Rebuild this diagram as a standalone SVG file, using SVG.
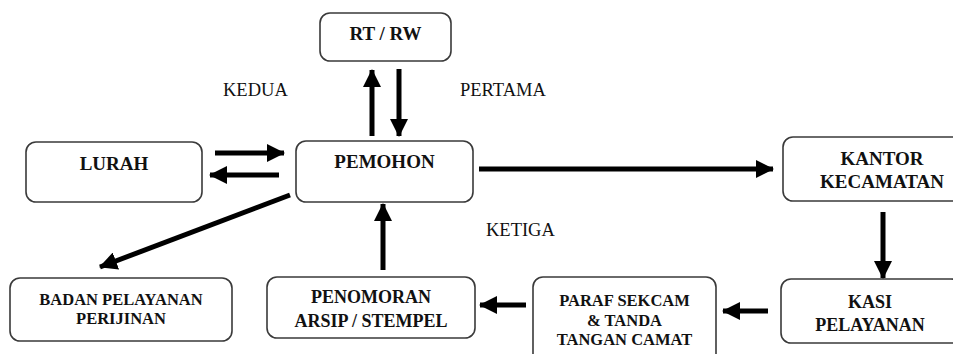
<svg xmlns="http://www.w3.org/2000/svg" width="953" height="354" viewBox="0 0 953 354">
<style>
.box{fill:#fff;stroke:#3a3a3a;stroke-width:1.6}
.t{font-family:'Liberation Serif','DejaVu Serif',serif;font-weight:bold;text-anchor:middle;fill:#111}
.l{font-family:'Liberation Serif','DejaVu Serif',serif;font-size:18.5px;fill:#111}
.c{stroke:#000;stroke-width:5;fill:none;marker-end:url(#ah)}
</style>
<defs>
<marker id="ah" markerUnits="userSpaceOnUse" markerWidth="18" markerHeight="18" viewBox="0 0 18 18" refX="17" refY="9" orient="auto">
<path d="M0,0 L18,9 L0,18 z" fill="#000"/>
</marker>
</defs>
<rect width="953" height="354" fill="#fff"/>
<g id="rtrw"><rect class="box" x="320" y="13" width="131" height="48" rx="10"/><text class="t" x="385.5" y="40" font-size="19">RT / RW</text></g>
<g id="pemohon"><rect class="box" x="296" y="141" width="177" height="61" rx="10"/><text class="t" x="384.5" y="168" font-size="19">PEMOHON</text></g>
<g id="lurah"><rect class="box" x="26" y="142" width="176" height="60" rx="10"/><text class="t" x="114" y="170" font-size="19">LURAH</text></g>
<g id="badan"><rect class="box" x="10" y="278" width="222" height="63" rx="10"/><text class="t" x="121" y="305" font-size="16.5">BADAN PELAYANAN</text><text class="t" x="121" y="324" font-size="16.5">PERIJINAN</text></g>
<g id="penomoran"><rect class="box" x="267" y="277" width="208" height="61" rx="10"/><text class="t" x="371" y="303" font-size="18">PENOMORAN</text><text class="t" x="371" y="327" font-size="18">ARSIP / STEMPEL</text></g>
<g id="paraf"><rect class="box" x="533" y="277" width="183" height="90" rx="10"/><text class="t" x="624.5" y="306" font-size="16.5">PARAF SEKCAM</text><text class="t" x="624.5" y="326" font-size="16.5">&amp; TANDA</text><text class="t" x="624.5" y="345" font-size="16.5">TANGAN CAMAT</text></g>
<g id="kasi"><rect class="box" x="781" y="279" width="180" height="64" rx="10"/><text class="t" x="870" y="308" font-size="18">KASI</text><text class="t" x="870" y="331" font-size="18">PELAYANAN</text></g>
<g id="kantor"><rect class="box" x="783" y="137" width="180" height="64" rx="10"/><text class="t" x="882" y="165" font-size="19">KANTOR</text><text class="t" x="882" y="188" font-size="19">KECAMATAN</text></g>
<g id="labels"><text class="l" x="223" y="96">KEDUA</text><text class="l" x="460" y="96">PERTAMA</text><text class="l" x="486" y="236">KETIGA</text></g>
<g id="connectors">
<line class="c" x1="372" y1="136" x2="372" y2="70"/>
<line class="c" x1="399" y1="69" x2="399" y2="136"/>
<line class="c" x1="215" y1="153" x2="284" y2="153"/>
<line class="c" x1="279" y1="175" x2="210" y2="175"/>
<line class="c" x1="290" y1="195" x2="100" y2="267"/>
<line class="c" x1="479" y1="169" x2="773" y2="169"/>
<line class="c" x1="883" y1="212" x2="883" y2="278"/>
<line class="c" x1="768" y1="311" x2="723" y2="311"/>
<line class="c" x1="526" y1="305" x2="480" y2="305"/>
<line class="c" x1="383" y1="270" x2="383" y2="204"/>
</g>
</svg>
